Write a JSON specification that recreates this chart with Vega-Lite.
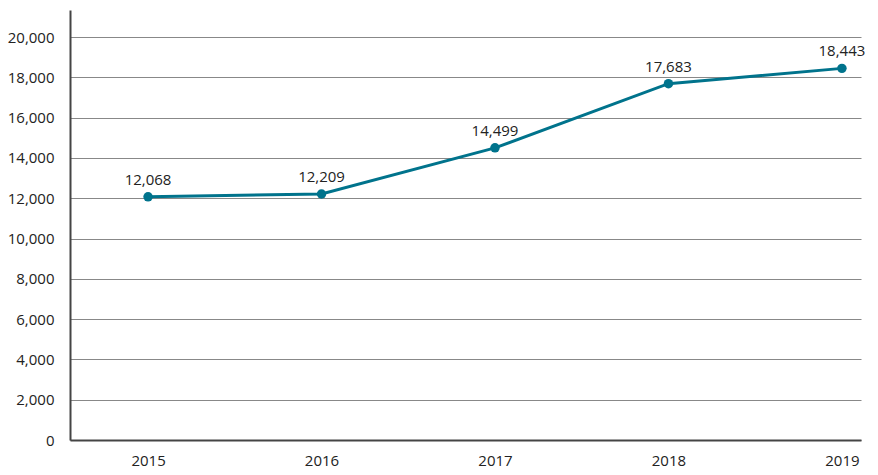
{
  "$schema": "https://vega.github.io/schema/vega-lite/v6.json",
  "width": 791,
  "height": 430,
  "autosize": "none",
  "padding": {"left": 70, "top": 10, "right": 17, "bottom": 35},
  "config": {
    "font": "Open Sans",
    "view": {"stroke": null}
  },
  "data": {
    "values": [
      {"year": 2015, "value": 12068},
      {"year": 2016, "value": 12209},
      {"year": 2017, "value": 14499},
      {"year": 2018, "value": 17683},
      {"year": 2019, "value": 18443}
    ]
  },
  "encoding": {
    "x": {
      "field": "year",
      "type": "quantitative",
      "scale": {"domain": [2014.55, 2019.11], "nice": false, "zero": false},
      "axis": {
        "title": null,
        "values": [2015, 2016, 2017, 2018, 2019],
        "format": "d",
        "grid": false,
        "ticks": false,
        "domainColor": "#444",
        "domainWidth": 2,
        "labelFont": "Open Sans",
        "labelFontSize": 15,
        "labelColor": "#222",
        "labelPadding": 13,
        "labelFlush": false
      }
    },
    "y": {
      "field": "value",
      "type": "quantitative",
      "scale": {"domain": [0, 21340], "nice": false},
      "axis": {
        "title": null,
        "values": [0, 2000, 4000, 6000, 8000, 10000, 12000, 14000, 16000, 18000, 20000],
        "format": ",d",
        "grid": true,
        "gridColor": "#888",
        "gridWidth": 1,
        "ticks": false,
        "domainColor": "#444",
        "domainWidth": 2,
        "labelFont": "Open Sans",
        "labelFontSize": 15,
        "labelColor": "#222",
        "labelPadding": 16
      }
    }
  },
  "layer": [
    {"mark": {"type": "line", "color": "#00738c", "strokeWidth": 3}},
    {"mark": {"type": "point", "filled": true, "opacity": 1, "color": "#00738c", "size": 90}},
    {
      "mark": {"type": "text", "dy": -17, "fontSize": 15, "color": "#222", "font": "Open Sans"},
      "encoding": {"text": {"field": "value", "type": "quantitative", "format": ",d"}}
    }
  ]
}
